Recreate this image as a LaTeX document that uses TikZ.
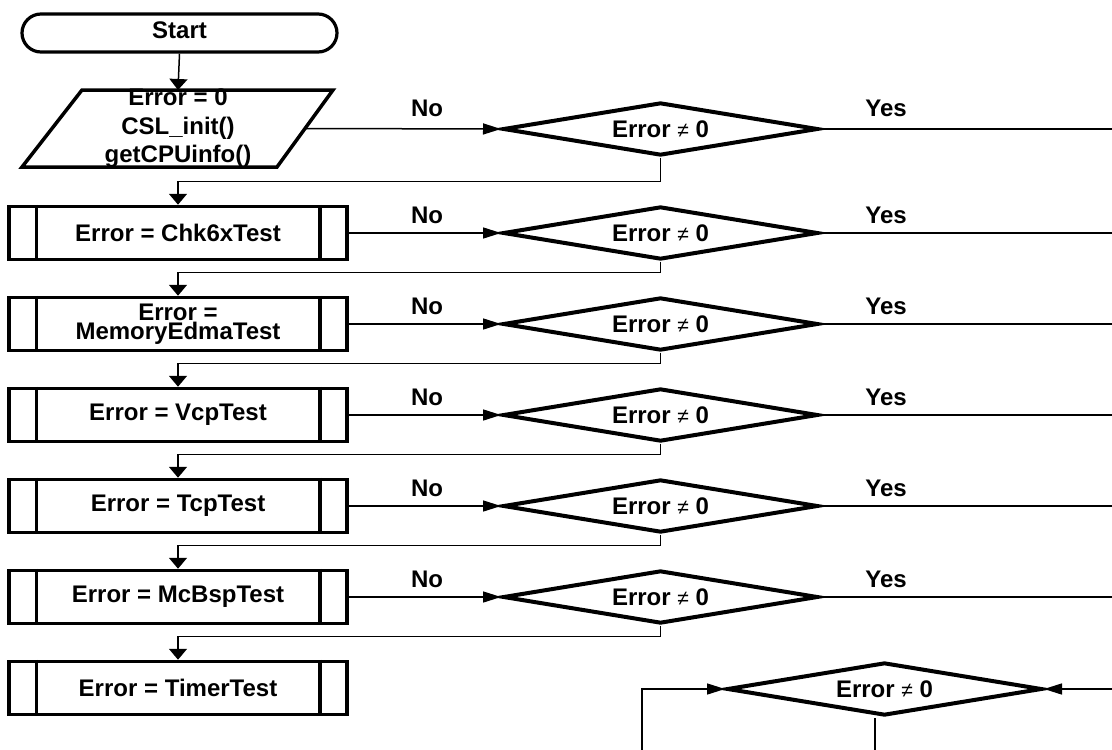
\documentclass[tikz,border=0pt]{standalone}
\usepackage{fontspec}
\setmainfont{Liberation Sans}
\usepackage{tikz}
\usetikzlibrary{shapes,shapes.geometric}
\usetikzlibrary{arrows.meta}
\newcommand{\chartfont}{\fontsize{24pt}{28.5pt}\selectfont\bfseries}
\newcommand{\neqsign}{{\mdseries\fontsize{21pt}{21pt}\selectfont ≠}}
\tikzset{
	termbox/.style={draw, line width=3.2pt, rounded corners=19pt, minimum width=315pt, minimum height=38pt, inner sep=0pt, font=\chartfont},
	procbox/.style={draw, line width=3.5pt, minimum width=338pt, minimum height=53pt, inner sep=0pt, font=\chartfont, align=center},
	testbox/.style={draw, diamond, line width=4pt, aspect=6, minimum width=315pt, minimum height=53pt, inner sep=0pt, font=\chartfont},
	lbl/.style={font=\chartfont, inner sep=0pt},
	flow/.style={line width=1.5pt},
	harrow/.style={flow, -{Triangle[length=18pt,width=11pt]}},
	varrow/.style={flow, -{Triangle[length=11pt,width=18pt]}},
}

\begin{document}
\begin{tikzpicture}[x=1pt, y=-1pt]
			\useasboundingbox (0,0) rectangle (1112,750);
			\coordinate (edgeR) at (1112,0);
			\coordinate (initN) at (178,90);
			\coordinate (initE) at (305,128.5);
			\coordinate (loopL) at (642,750);
			\coordinate (loopM) at (875,750);
			\coordinate (loopR) at (1112,689);
			
			\node[termbox, text depth=5pt] (start) at (179.5,33) {Start};
			\draw [line width=3.5pt] (22,167) -- (82,90) -- (333,90) -- (277,167) -- cycle;
			\node[lbl, align=center] (init) at (178,128.5) {Error = 0\\CSL\_init()\\getCPUinfo()};
			
			\node[procbox] (b1) at (178,233) {Error = Chk6xTest};
			\node[procbox, font=\fontsize{24pt}{17pt}\selectfont\bfseries] (b2) at (178,324) {Error =\\MemoryEdmaTest};
			\node[procbox] (b3) at (178,415) {Error = VcpTest};
			\node[procbox] (b4) at (178,506) {Error = TcpTest};
			\node[procbox] (b5) at (178,597) {Error = McBspTest};
			\node[procbox] (b6) at (178,688) {Error = TimerTest};
			\foreach \b in {b1,b2,b3,b4,b5,b6}
				\draw [line width=3.5pt] ([xshift=29pt]\b.north west) -- ([xshift=29pt]\b.south west)
					([xshift=-29pt]\b.north east) -- ([xshift=-29pt]\b.south east);
			
			\node[testbox] (d1) at (660.5,129) {Error \neqsign{} 0};
			\node[testbox] (d2) at (660.5,233) {Error \neqsign{} 0};
			\node[testbox] (d3) at (660.5,324) {Error \neqsign{} 0};
			\node[testbox] (d4) at (660.5,415) {Error \neqsign{} 0};
			\node[testbox] (d5) at (660.5,506) {Error \neqsign{} 0};
			\node[testbox] (d6) at (660.5,597) {Error \neqsign{} 0};
			\node[testbox] (d7) at (884.5,689) {Error \neqsign{} 0};
			
			\node[lbl] (no1) at (427,108) {No};
			\node[lbl] (yes1) at (886,108) {Yes};
			\foreach \r/\y in {2/215,3/306,4/397,5/488,6/579} {
				\node[lbl] (no\r) at (427,\y) {No};
				\node[lbl] (yes\r) at (886,\y) {Yes};
			}
			
			\draw [varrow] (start.south) -- (initN);
			\draw [harrow] (initE) -- (d1.west);
			\draw [harrow] (b1.east) -- (d2.west);
			\draw [harrow] (b2.east) -- (d3.west);
			\draw [harrow] (b3.east) -- (d4.west);
			\draw [harrow] (b4.east) -- (d5.west);
			\draw [harrow] (b5.east) -- (d6.west);
			\foreach \i in {1,...,6} {
				\draw [flow] (d\i.east) -- (d\i.east -| edgeR);
				\draw [varrow] (d\i.south) |- ([yshift=23.5pt]b\i.north) -- (b\i.north);
			}
			
			\draw [harrow] (loopL) |- (d7.west);
			\draw [harrow] (loopR) -- (d7.east);
			\draw [flow] (loopM) -- (loopM |- d7.south);
		\end{tikzpicture}
\end{document}
